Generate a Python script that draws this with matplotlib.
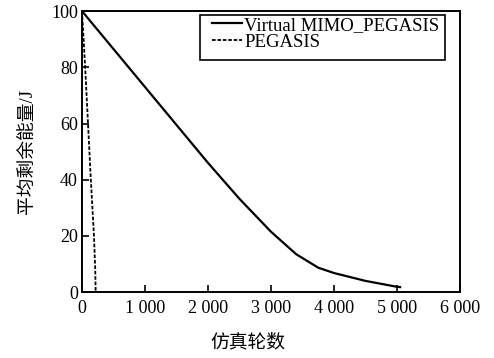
import matplotlib
matplotlib.use("Agg")
from matplotlib import pyplot as plt
from matplotlib.patches import Rectangle

plt.rcParams['font.family'] = ['Liberation Serif', 'Noto Sans CJK SC']

# Virtual MIMO_PEGASIS
mimo_rounds = [0, 500, 1000, 1500, 2000, 2500, 3000, 3400, 3750, 4000, 4500, 5000, 5050]
mimo_energy = [100, 86.5, 73, 59.5, 46, 33.2, 21.5, 13.5, 8.7, 6.8, 4.0, 1.9, 1.8]

# PEGASIS
peg_rounds = [0, 20, 50, 100, 140, 190, 210, 217]
peg_energy = [100, 92, 80, 58, 40, 20, 8, 0]

xticks = [0, 1000, 2000, 3000, 4000, 5000, 6000]
xticklabels = ["0", "1 000", "2 000", "3 000", "4 000", "5 000", "6 000"]
yticks = [0, 20, 40, 60, 80, 100]

fig = plt.figure(figsize=(4.94, 3.58), dpi=100)
ax = fig.add_axes([0.166, 0.184, 0.765, 0.785])

ax.plot(mimo_rounds, mimo_energy, color="black", lw=1.6, label="Virtual MIMO_PEGASIS")
ax.plot(peg_rounds, peg_energy, color="black", lw=1.3, linestyle=(0, (2, 1)), label="PEGASIS")

ax.set_xlim(0, 6000)
ax.set_ylim(0, 100)
ax.set_xticks(xticks)
ax.set_xticklabels(xticklabels)
ax.set_yticks(yticks)
ax.tick_params(direction="in", length=5, width=1.2, labelsize=13, pad=6)
ax.tick_params(axis="y", pad=3)
for s in ax.spines.values():
    s.set_linewidth(1.4)

ax.set_xlabel("仿真轮数", fontsize=13.5)
ax.xaxis.set_label_coords(0.44, -0.15)
ax.set_ylabel("平均剩余能量/J", fontsize=13.5)
ax.yaxis.set_label_coords(-0.12, 0.5)

leg = ax.legend(loc="upper left", bbox_to_anchor=(0.344, 0.98), frameon=False,
                fontsize=13.5, labelspacing=0.0, handlelength=1.6, handletextpad=0.12,
                borderpad=0.0, borderaxespad=0.0)
ax.add_patch(Rectangle((0.311, 0.825), 0.65, 0.16, transform=ax.transAxes,
                       fill=False, edgecolor="black", lw=1.2, zorder=5))

fig.savefig("out.png", dpi=100)
